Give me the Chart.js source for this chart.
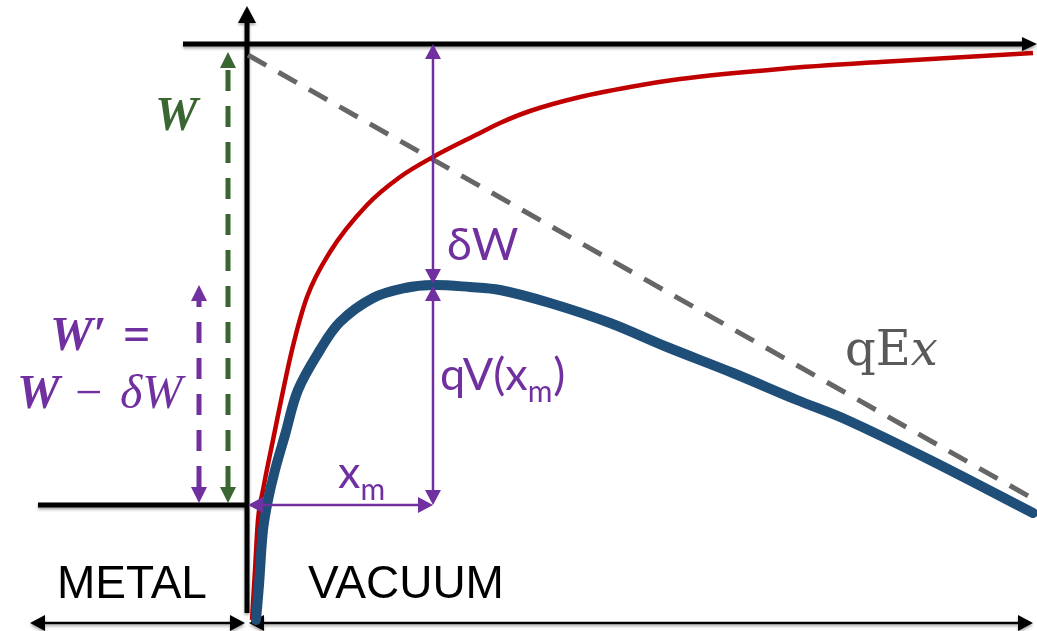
<!DOCTYPE html>
<html>
<head>
<meta charset="utf-8">
<script src="https://cdn.jsdelivr.net/npm/chart.js@4/dist/chart.umd.min.js"></script>
<style>
  html, body { margin: 0; padding: 0; background: #fff; }
  #wrap { width: 1037px; height: 631px; position: relative; }
</style>
</head>
<body>
<div id="wrap"><canvas id="chart"></canvas></div>
<script>
// Distance from the metal surface (x) and energy above the Fermi level (y)
const RED_X = [5, 8, 11, 16, 26, 45, 60, 83, 120, 153, 186, 233, 253, 283, 333, 383, 433, 533, 633, 786];
const RED_Y = [-115, -65, -15, 15, 65, 155, 208, 253, 300, 328, 348, 372, 382, 394, 408, 418, 426, 436, 443, 452];

const BLUE_X = [9, 12, 16, 21, 28, 38, 51, 73, 93, 126, 158, 186, 223, 253, 303, 363, 420, 486, 550, 600, 683, 786];
const BLUE_Y = [-115, -80, -25, 5, 35, 70, 115, 155, 183, 207, 217, 220, 218, 215, 202, 182, 158, 132, 105, 85, 45, -8];

const FIELD_X = [1, 783];
const FIELD_Y = [450, 8];

// Reference levels
const VACUUM_LEVEL = 461;
const FERMI_LEVEL = 0;
const X_M = 186;
const V_MAX = 220;

const PURPLE = '#7030a0';
const GREEN = '#3a6631';

function pts(xs, ys) {
    return xs.map((x, i) => ({x, y: ys[i]}));
}

// Draw a line with optional filled heads at either end (pixel coords)
function arrow(ctx, x1, y1, x2, y2, o) {
    const len = o.head || 15, half = o.half || 8;
    const dx = x2 - x1, dy = y2 - y1;
    const d = Math.hypot(dx, dy);
    const ux = dx / d, uy = dy / d;
    const sx = o.start ? x1 + ux * len : x1;
    const sy = o.start ? y1 + uy * len : y1;
    const ex = o.end ? x2 - ux * len : x2;
    const ey = o.end ? y2 - uy * len : y2;
    ctx.save();
    ctx.strokeStyle = o.color;
    ctx.fillStyle = o.color;
    ctx.lineWidth = o.width;
    ctx.setLineDash(o.dash || []);
    ctx.beginPath();
    ctx.moveTo(sx, sy);
    ctx.lineTo(ex, ey);
    ctx.stroke();
    ctx.setLineDash([]);
    const head = (tx, ty, bx, by) => {
        ctx.beginPath();
        ctx.moveTo(tx, ty);
        ctx.lineTo(bx - uy * half, by + ux * half);
        ctx.lineTo(bx + uy * half, by - ux * half);
        ctx.closePath();
        ctx.fill();
    };
    if (o.start) head(x1, y1, sx, sy);
    if (o.end) head(x2, y2, ex, ey);
    ctx.restore();
}

function text(ctx, str, x, y, font, color) {
    ctx.save();
    ctx.font = font;
    ctx.fillStyle = color;
    ctx.textAlign = 'left';
    ctx.textBaseline = 'alphabetic';
    ctx.fillText(str, x, y);
    const w = ctx.measureText(str).width;
    ctx.restore();
    return x + w;
}

const diagram = {
    id: 'diagram',
    beforeDatasetsDraw(chart) {
        const {ctx, scales: {x, y}} = chart;
        const X = v => x.getPixelForValue(v), Y = v => y.getPixelForValue(v);
        ctx.save();
        ctx.shadowColor = 'rgba(0,0,0,0.35)';
        ctx.shadowBlur = 3;
        ctx.shadowOffsetY = 2;
        // vacuum level
        arrow(ctx, X(-64), Y(VACUUM_LEVEL), X(790), Y(VACUUM_LEVEL), {color: '#000', width: 5, end: true, head: 15, half: 7});
        // surface / energy axis
        arrow(ctx, X(0), Y(-108), X(0), Y(499), {color: '#000', width: 5, end: true, head: 17, half: 9});
        // Fermi level in the metal
        arrow(ctx, X(-209), Y(FERMI_LEVEL), X(0), Y(FERMI_LEVEL), {color: '#000', width: 5});
        // region arrows
        arrow(ctx, X(-217), Y(-118), X(-2), Y(-118), {color: '#000', width: 2.5, start: true, end: true, head: 15, half: 8});
        arrow(ctx, X(2), Y(-118), X(786), Y(-118), {color: '#000', width: 2.5, start: true, end: true, head: 15, half: 8});
        ctx.restore();
    },
    afterDatasetsDraw(chart) {
        const {ctx, scales: {x, y}} = chart;
        const X = v => x.getPixelForValue(v), Y = v => y.getPixelForValue(v);

        // W and W' dashed arrows in the metal
        arrow(ctx, X(-19), Y(2), X(-19), Y(453), {color: GREEN, width: 5, dash: [21, 15], start: true, end: true, head: 16, half: 8});
        arrow(ctx, X(-48), Y(2), X(-48), Y(V_MAX), {color: PURPLE, width: 5, dash: [21, 15], start: true, end: true, head: 16, half: 8});

        // dW, qV(xm) and xm arrows
        arrow(ctx, X(X_M), Y(VACUUM_LEVEL), X(X_M), Y(V_MAX + 1), {color: PURPLE, width: 2.5, start: true, end: true, head: 15, half: 8});
        arrow(ctx, X(X_M), Y(V_MAX - 1), X(X_M), Y(FERMI_LEVEL), {color: PURPLE, width: 2.5, start: true, end: true, head: 15, half: 8});
        arrow(ctx, X(1), Y(FERMI_LEVEL), X(X_M), Y(FERMI_LEVEL), {color: PURPLE, width: 2.5, start: true, end: true, head: 15, half: 8});

        const sans = '"Lato", "Open Sans", sans-serif';
        const serif = '"Liberation Serif", serif';
        text(ctx, 'W', 155, 130, `bold italic 48px ${serif}`, GREEN);

        text(ctx, 'W′', 50, 350, `bold italic 48px ${serif}`, PURPLE);
        text(ctx, '=', 123, 350, `bold 48px ${serif}`, PURPLE);
        text(ctx, 'W', 17, 408, `bold italic 48px ${serif}`, PURPLE);
        text(ctx, '−', 75, 408, `48px ${serif}`, PURPLE);
        text(ctx, 'δW', 120, 408, `italic 48px ${serif}`, PURPLE);

        text(ctx, 'δW', 447, 260, `45px ${sans}`, PURPLE);
        let e = text(ctx, 'qV(x', 440, 390, `45px ${sans}`, PURPLE);
        e = text(ctx, 'm', e, 402, `30px ${sans}`, PURPLE);
        text(ctx, ')', e + 1, 390, `45px ${sans}`, PURPLE);
        e = text(ctx, 'x', 338, 488, `45px ${sans}`, PURPLE);
        text(ctx, 'm', e, 500, `30px ${sans}`, PURPLE);

        e = text(ctx, 'qE', 845, 365, `48px "DejaVu Serif", serif`, '#595959');
        text(ctx, 'x', e, 365, `italic 48px "DejaVu Serif", serif`, '#595959');

        text(ctx, 'METAL', 57, 598, `46px "Liberation Sans", Arial, sans-serif`, '#000');
        text(ctx, 'VACUUM', 308, 598, `46px "Liberation Sans", Arial, sans-serif`, '#000');
    }
};

new Chart(document.getElementById('chart'), {
    type: 'scatter',
    data: {
        datasets: [
            {
                label: 'qEx',
                data: pts(FIELD_X, FIELD_Y),
                showLine: true,
                borderColor: '#666666',
                borderWidth: 5,
                borderDash: [21, 14],
                pointRadius: 0,
                clip: false,
                order: 3,
            },
            {
                label: 'image potential',
                data: pts(RED_X, RED_Y),
                showLine: true,
                borderColor: '#c00000',
                borderWidth: 4.5,
                cubicInterpolationMode: 'monotone',
                pointRadius: 0,
                clip: false,
                order: 2,
            },
            {
                label: 'total potential',
                data: pts(BLUE_X, BLUE_Y),
                showLine: true,
                borderColor: '#1f4e79',
                borderWidth: 10,
                tension: 0.35,
                borderCapStyle: 'round',
                borderJoinStyle: 'round',
                pointRadius: 0,
                clip: false,
                order: 1,
            },
        ],
    },
    options: {
        responsive: true,
        maintainAspectRatio: false,
        animation: false,
        layout: {padding: 0},
        plugins: {
            legend: {display: false},
            tooltip: {enabled: false},
        },
        scales: {
            x: {type: 'linear', min: -247, max: 790, display: false},
            y: {type: 'linear', min: -126, max: 505, display: false},
        },
    },
    plugins: [diagram],
});
</script>
</body>
</html>
